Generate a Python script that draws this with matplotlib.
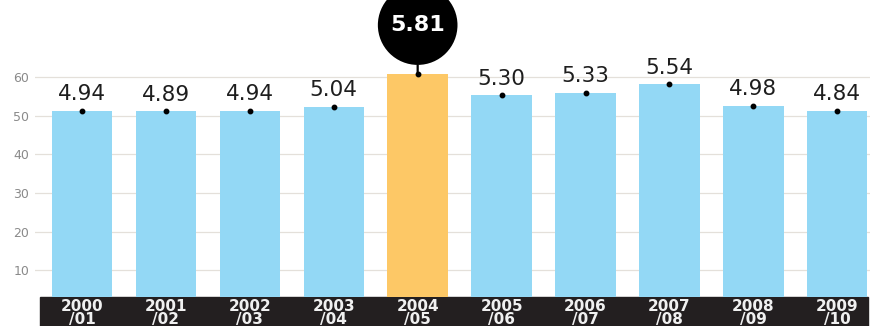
import matplotlib
matplotlib.use("Agg")
import matplotlib.pyplot as plt

# seasons, bar heights (left scale), and the value printed above each bar
SEASONS = ["2000\n/01", "2001\n/02", "2002\n/03", "2003\n/04", "2004\n/05",
           "2005\n/06", "2006\n/07", "2007\n/08", "2008\n/09", "2009\n/10"]
HEIGHTS = [51.3, 51.2, 51.3, 52.4, 60.9, 55.4, 56.0, 58.2, 52.6, 51.3]
LABELS = [4.94, 4.89, 4.94, 5.04, 5.81, 5.30, 5.33, 5.54, 4.98, 4.84]
Y_TICKS = [10, 20, 30, 40, 50, 60]
HIGHLIGHT = 4  # 2004/05

BLUE = "#93d8f5"
ORANGE = "#fdc866"
BAND = "#231f20"

W, H = 878, 326
fig = plt.figure(figsize=(W / 100, H / 100), dpi=100)
ax = fig.add_axes([35 / W, (H - 297) / H, 835 / W, 277 / H])

xs = list(range(len(SEASONS)))
colors = [ORANGE if i == HIGHLIGHT else BLUE for i in xs]
ax.bar(xs, HEIGHTS, width=0.72, color=colors, zorder=2)
ax.plot(xs, HEIGHTS, "o", color="black", ms=3.2, lw=0, zorder=4, clip_on=False)

for i, (h, v) in enumerate(zip(HEIGHTS, LABELS)):
    if i == HIGHLIGHT:
        # the record season gets the black bubble callout
        ax.annotate(f"{v:.2f}", xy=(i, h), xytext=(0, 35), textcoords="offset points",
                    ha="center", va="center", fontsize=16, fontweight="bold", color="white",
                    bbox=dict(boxstyle="circle,pad=0.56", fc="black", ec="none"),
                    arrowprops=dict(arrowstyle="-", color="black", lw=1.6,
                                    shrinkA=0, shrinkB=0),
                    annotation_clip=False, zorder=5)
    else:
        ax.annotate(f"{v:.2f}", xy=(i, h), xytext=(0, 7.5), textcoords="offset points",
                    ha="center", va="baseline", fontsize=15.5, color="#1e1e1e", zorder=5)

ax.set_xlim(-0.56, 9.39)
ax.set_ylim(3.1, 74.8)
ax.set_yticks(Y_TICKS)
ax.set_yticklabels([str(t) for t in Y_TICKS], fontsize=9, color="#8a8a8a")
ax.grid(axis="y", color="#e4e0da", lw=0.9, zorder=0)
ax.set_axisbelow(True)
ax.tick_params(axis="y", length=0, pad=4)
for s in ax.spines.values():
    s.set_visible(False)

# dark band under the bars carrying the season labels
band_x0 = (40 - 35) / 835
ax.add_patch(plt.Rectangle((band_x0, -29 / 277), (868 - 40) / 835, 29 / 277,
                           transform=ax.transAxes, color=BAND, clip_on=False, zorder=0.1))
ax.set_xticks(xs)
ax.set_xticklabels(SEASONS, fontsize=11, fontweight="bold", color="#f0f0f0",
                   linespacing=0.82)
ax.tick_params(axis="x", length=0, pad=1.5)

fig.savefig("out.png", dpi=100, facecolor="white")
